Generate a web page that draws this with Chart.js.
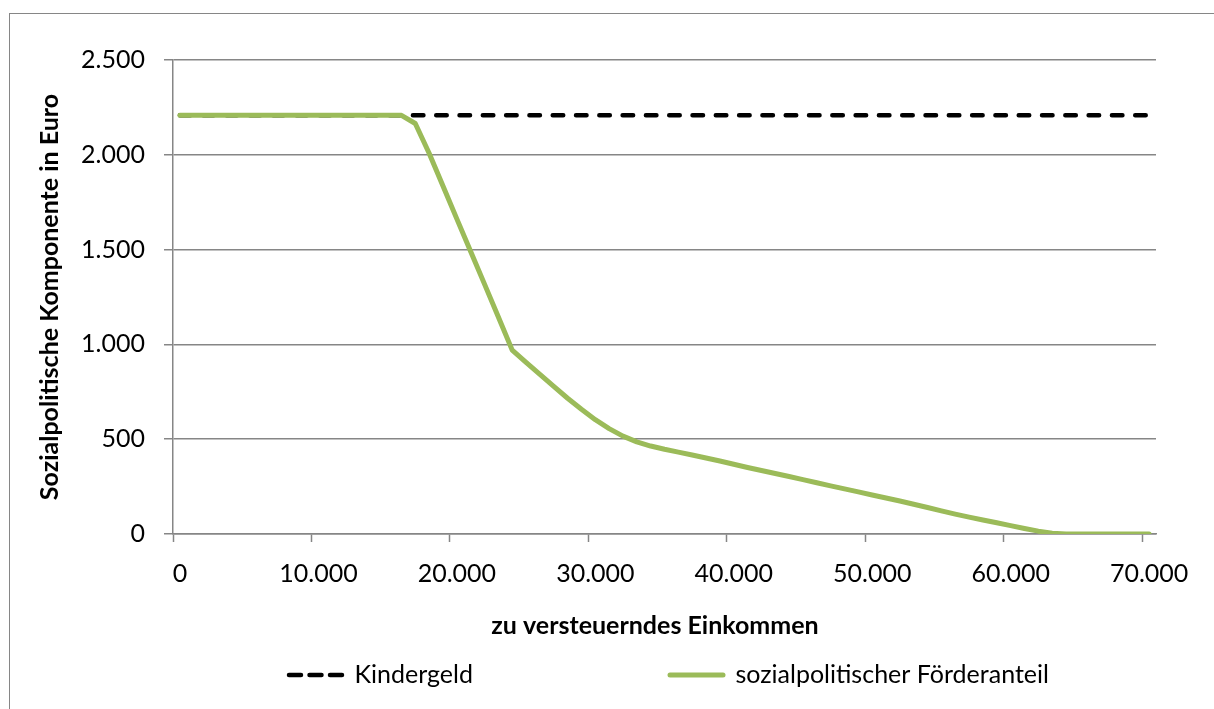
<!DOCTYPE html>
<html>
<head>
<meta charset="utf-8">
<script src="https://cdn.jsdelivr.net/npm/chart.js@4/dist/chart.umd.min.js"></script>
<style>
html,body{margin:0;padding:0;background:#fff;overflow:hidden}
#wrap{position:relative;width:1214px;height:709px;overflow:hidden}
#frame{position:absolute;left:9px;top:13px;width:1300px;height:800px;border:1px solid #868686;box-sizing:border-box}
canvas{position:absolute;left:0;top:0}
</style>
</head>
<body>
<div id="wrap"><div id="frame"></div><canvas id="c" width="1214" height="709"></canvas></div>
<script>
// ---- data ----
const seriesNames = ['Kindergeld', 'sozialpolitischer Förderanteil'];
const xTitle = 'zu versteuerndes Einkommen';
const yTitle = 'Sozialpolitische Komponente in Euro';

const incomeKindergeld = [0, 70000];
const kindergeld = [2208, 2208];

const incomeFoerder = [0, 16000, 17000, 18000, 19000, 20000, 21000, 22000, 23000, 24000,
  25000, 26000, 27000, 28000, 29000, 30000, 31000, 32000, 33000, 34000,
  35000, 36000, 37000, 38000, 39000, 40000, 41000, 42000, 43000, 44000,
  45000, 46000, 47000, 48000, 49000, 50000, 51000, 52000, 53000, 54000,
  55000, 56000, 57000, 58000, 59000, 60000, 61000, 62000, 63000, 64000, 70000];
const foerderanteil = [2208, 2208, 2165, 2008, 1835, 1662, 1490, 1318, 1145, 970,
  905, 842, 778, 716, 658, 603, 556, 516, 486, 464,
  447, 432, 417, 401, 385, 368, 351, 335, 319, 303,
  287, 270, 254, 238, 222, 206, 190, 174, 157, 140,
  122, 105, 89, 74, 59, 44, 29, 15, 4, 0, 0];

const xTickLabels = [0, 10000, 20000, 30000, 40000, 50000, 60000, 70000];
const yTickLabels = [0, 500, 1000, 1500, 2000, 2500];
const CATEGORY_HALF = 500;   // Excel category axis: tick marks sit between categories
const X_MIN = -500, X_MAX = 70500;

// ---- styles ----
const FONT = 'Lato';
const GRID = '#868686';
const GREEN = '#9BBB59';
const LEGEND_FONT = 25;
const LEGEND_BOX = 53;
const LEGEND_START_X = 289;
const LEGEND_ITEM2_X = 670;
const LEGEND_CENTER_Y = 675;
const LEGEND_DASH = [12, 8.5];
const TITLE_FONT = 25;
const TITLE_CX = 655;
const TITLE_CY = 626;

const measureCtx = document.createElement('canvas').getContext('2d');
measureCtx.font = `${LEGEND_FONT}px ${FONT}`;
const firstLabelWidth = measureCtx.measureText(seriesNames[0]).width;
const LEGEND_PAD = Math.max(10, LEGEND_ITEM2_X - (LEGEND_START_X + LEGEND_BOX + LEGEND_FONT / 2 + firstLabelWidth));

const fmt = v => v.toLocaleString('de-DE');

const placeBottomBoxes = {
  id: 'placeBottomBoxes',
  afterLayout(chart) {
    const lg = chart.legend;
    if (lg) {
      lg.left = LEGEND_START_X - LEGEND_PAD;
      lg.right = lg.left + 3000;
      lg.top = LEGEND_CENTER_Y - LEGEND_PAD - LEGEND_FONT / 2;
      lg.bottom = LEGEND_CENTER_Y + 25;
      lg.width = lg.right - lg.left;
      lg.height = lg.bottom - lg.top;
    }
    const tb = chart.titleBlock;
    if (tb) {
      const w = tb.right - tb.left;
      const h = tb.bottom - tb.top;
      tb.left = TITLE_CX - w / 2;
      tb.right = tb.left + w;
      tb.top = TITLE_CY - h / 2;
      tb.bottom = tb.top + h;
    }
  }
};

new Chart(document.getElementById('c'), {
  type: 'line',
  data: {
    datasets: [
      {
        label: seriesNames[0],
        data: incomeKindergeld.map((x, i) => ({x, y: kindergeld[i]})),
        borderColor: '#000000',
        backgroundColor: '#000000',
        borderWidth: 4.5,
        borderDash: [10.5, 12.8],
        borderCapStyle: 'round',
        pointRadius: 0,
        fill: false,
        order: 1
      },
      {
        label: seriesNames[1],
        data: incomeFoerder.map((x, i) => ({x, y: foerderanteil[i]})),
        borderColor: GREEN,
        backgroundColor: GREEN,
        borderWidth: 5,
        borderCapStyle: 'round',
        borderJoinStyle: 'round',
        pointRadius: 0,
        tension: 0,
        fill: false,
        order: 0
      }
    ]
  },
  options: {
    responsive: false,
    animation: false,
    devicePixelRatio: 1,
    locale: 'de-DE',
    layout: { padding: { left: 10, top: 60, right: 58, bottom: 43 } },
    plugins: {
      tooltip: { enabled: false },
      title: {
        display: true,
        text: xTitle,
        position: 'bottom',
        fullSize: false,
        weight: 500,
        color: '#000',
        padding: 0,
        font: { family: FONT, size: TITLE_FONT, weight: 'bold' }
      },
      legend: {
        display: true,
        position: 'bottom',
        align: 'start',
        fullSize: false,
        maxHeight: 30,
        labels: {
          color: '#000',
          font: { family: FONT, size: LEGEND_FONT },
          usePointStyle: true,
          pointStyle: 'line',
          pointStyleWidth: LEGEND_BOX,
          padding: LEGEND_PAD,
          sort: (a, b) => a.datasetIndex - b.datasetIndex,
          generateLabels(chart) {
            const items = Chart.defaults.plugins.legend.labels.generateLabels(chart);
            items.forEach(it => {
              const ds = chart.data.datasets[it.datasetIndex];
              it.pointStyle = 'line';
              it.lineCap = 'round';
              it.lineWidth = ds.borderWidth;
              it.strokeStyle = ds.borderColor;
              it.fillStyle = ds.borderColor;
              it.lineDash = ds.borderDash ? LEGEND_DASH : [];
            });
            return items;
          }
        }
      }
    },
    scales: {
      x: {
        type: 'linear',
        min: X_MIN,
        max: X_MAX,
        afterBuildTicks(scale) {
          scale.ticks = xTickLabels.map(v => ({ value: v - CATEGORY_HALF }));
        },
        ticks: {
          color: '#000',
          font: { family: FONT, size: 25 },
          padding: 17,
          labelOffset: 7,
          maxRotation: 0,
          autoSkip: false,
          callback: (value, index) => fmt(xTickLabels[index])
        },
        grid: {
          drawOnChartArea: false,
          drawTicks: true,
          tickLength: 8,
          tickColor: GRID,
          tickWidth: 1.5,
          color: GRID
        },
        border: { display: true, color: GRID, width: 1.5 }
      },
      y: {
        type: 'linear',
        min: 0,
        max: 2500,
        afterBuildTicks(scale) {
          scale.ticks = yTickLabels.map(v => ({ value: v }));
        },
        afterFit(scale) { scale.width = 163; },
        ticks: {
          color: '#000',
          font: { family: FONT, size: 25 },
          padding: 19,
          callback: v => fmt(v)
        },
        grid: {
          color: GRID,
          lineWidth: 1.5,
          tickLength: 9,
          tickColor: GRID,
          tickWidth: 1.5
        },
        border: { display: true, color: GRID, width: 1.5 },
        title: {
          display: true,
          text: yTitle,
          color: '#000',
          font: { family: FONT, size: 25, weight: 'bold' },
          padding: { top: 25, bottom: 0 }
        }
      }
    }
  },
  plugins: [placeBottomBoxes]
});
</script>
</body>
</html>
